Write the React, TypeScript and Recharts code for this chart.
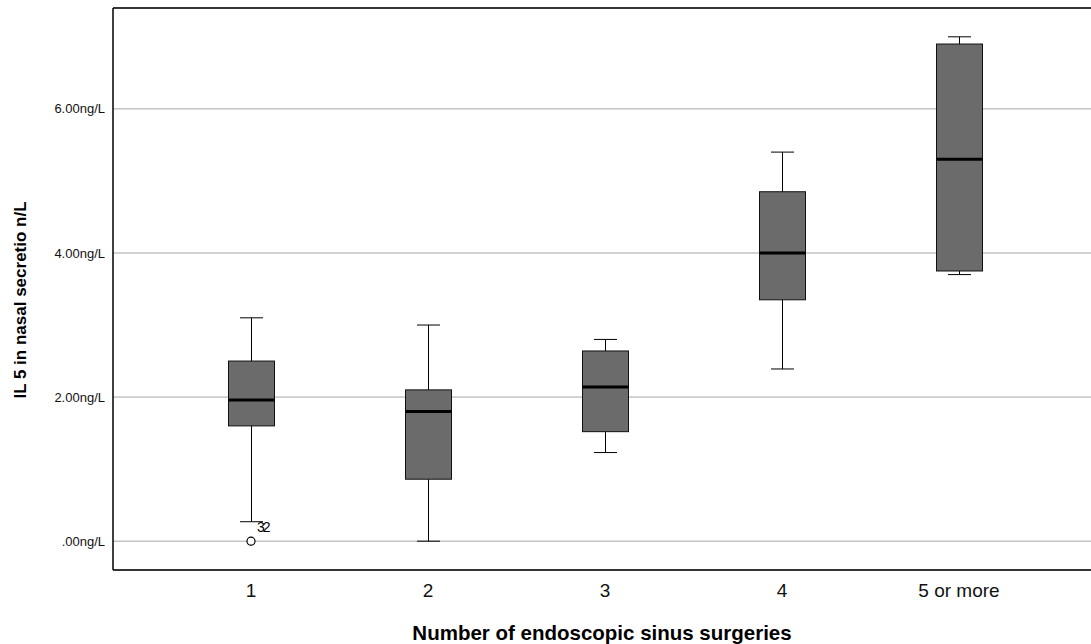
import { ComposedChart, Bar, Scatter, XAxis, YAxis, CartesianGrid, Label, ReferenceLine } from 'recharts';

// five groups, values
const categories = ['1', '2', '3', '4', '5 or more'];
const lows = [0.27, 0, 1.23, 2.39, 3.70];
const q1s = [1.60, 0.86, 1.52, 3.35, 3.75];
const medians = [1.96, 1.80, 2.14, 4.0, 5.30];
const q3s = [2.50, 2.10, 2.64, 4.85, 6.90];
const highs = [3.10, 3.0, 2.80, 5.40, 7.0];
const outliers = [0, null, null, null, null];
const outlierLabels = ['32', '', '', '', ''];
const yTicks = [0, 2, 4, 6];
const yMax = 7.4;

const data = categories.map((c, i) => ({
  cat: c,
  low: lows[i],
  q1: q1s[i],
  median: medians[i],
  q3: q3s[i],
  high: highs[i],
  range: [lows[i], highs[i]],
  outlier: outliers[i],
  outlierLabel: outlierLabels[i],
}));

const FONT = 'Arial, "Liberation Sans", Helvetica, sans-serif';

// box drawn inside the whisker range bar, positions follow the bar's scale
const BoxShape = (props: any) => {
  const { x, y, width, height, payload } = props;
  const top = Math.min(y, y + height);
  const bot = Math.max(y, y + height);
  const span = payload.high - payload.low;
  const pos = (v: number) => bot - ((bot - top) * (v - payload.low)) / span;
  const cx = x + width / 2;
  const cap = width / 4;
  const yQ1 = pos(payload.q1);
  const yQ3 = pos(payload.q3);
  const yMed = pos(payload.median);
  return (
    <g>
      <line x1={cx} x2={cx} y1={top} y2={bot} stroke="#000" strokeWidth={1} />
      <line x1={cx - cap} x2={cx + cap} y1={top} y2={top} stroke="#000" strokeWidth={1} />
      <line x1={cx - cap} x2={cx + cap} y1={bot} y2={bot} stroke="#000" strokeWidth={1} />
      <rect x={x} y={yQ3} width={width} height={yQ1 - yQ3} fill="#6b6b6b" stroke="#111" strokeWidth={1} />
      <line x1={x} x2={x + width} y1={yMed} y2={yMed} stroke="#000" strokeWidth={3} />
    </g>
  );
};

const OutlierShape = (props: any) => {
  const { cx, cy, payload } = props;
  if (cx == null || cy == null) return <g />;
  return (
    <g>
      <circle cx={cx} cy={cy} r={4} fill="#fff" stroke="#000" strokeWidth={1.2} />
      <text x={cx + 6} y={cy - 9} fontSize={14} fontFamily={FONT} letterSpacing={-2} fill="#000">
        {payload.outlierLabel}
      </text>
    </g>
  );
};

const YTitle = () => (
  <text
    x={22}
    y={300}
    transform="rotate(-90, 22, 300)"
    textAnchor="middle"
    dominantBaseline="middle"
    fontSize={17}
    fontWeight="bold"
    fontFamily={FONT}
    fill="#000"
  >
    IL 5 in nasal secretio n/L
  </text>
);

export default function App() {
  return (
    <div style={{ position: 'absolute', left: 0, top: 0, background: '#fff' }}>
      <ComposedChart width={1091} height={644} data={data} margin={{ top: 8, right: 0, bottom: 0, left: 0 }}>
        <CartesianGrid horizontal vertical={false} stroke="#a6a6a6" />
        <XAxis
          dataKey="cat"
          type="category"
          height={74}
          padding={{ left: 49.5, right: 43.5 }}
          axisLine={{ stroke: '#000', strokeWidth: 1.5 }}
          tickLine={false}
          tickMargin={8}
          tick={{ fill: '#111', fontSize: 19, fontFamily: FONT }}
        >
          <Label
            value="Number of endoscopic sinus surgeries"
            position="insideBottom"
            offset={4}
            style={{ fontSize: 20.5, fontWeight: 'bold', fontFamily: FONT, fill: '#000' }}
          />
        </XAxis>
        <YAxis
          type="number"
          domain={[-0.4, yMax]}
          ticks={yTicks}
          width={113}
          axisLine={{ stroke: '#000', strokeWidth: 1.5 }}
          tickLine={false}
          tick={{ fill: '#111', fontSize: 13, fontFamily: FONT }}
          tickFormatter={(v: number) => (v === 0 ? '.00ng/L' : `${v.toFixed(2)}ng/L`)}
          allowDataOverflow
        >
          <Label content={<YTitle />} />
        </YAxis>
        <ReferenceLine y={yMax} stroke="#000" strokeWidth={1.5} />
        <Bar dataKey="range" barSize={46} shape={<BoxShape />} isAnimationActive={false} />
        <Scatter dataKey="outlier" shape={<OutlierShape />} isAnimationActive={false} />
      </ComposedChart>
    </div>
  );
}
